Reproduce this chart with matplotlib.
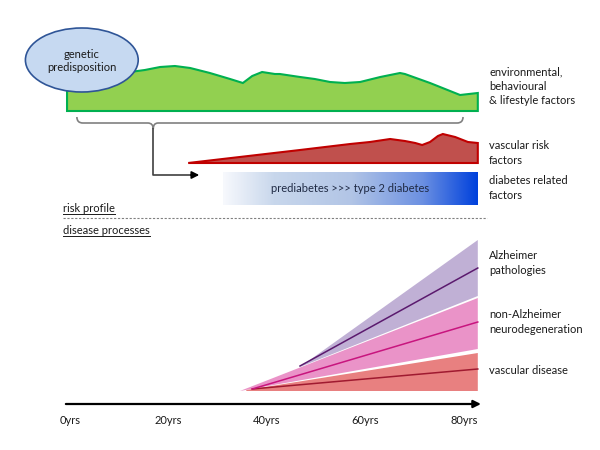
import numpy as np
import matplotlib
matplotlib.use("Agg")
import matplotlib.pyplot as plt
from matplotlib.patches import Polygon, Ellipse, PathPatch
from matplotlib.path import Path
from matplotlib.colors import LinearSegmentedColormap

plt.rcParams['font.family'] = ['Lato', 'DejaVu Sans']

# x is age in years, y is vertical position (top of the picture = 0)
age_ticks = [0, 20, 40, 60, 80]
age_labels = ['0yrs', '20yrs', '40yrs', '60yrs', '80yrs']

# environmental / behavioural / lifestyle profile (top outline)
env_age = [-0.6, 6.1, 8.1, 10.2, 12.2, 15.2, 18.3, 21.3, 24.4, 28.4, 32.5, 35.1, 37.0,
           39.0, 41.6, 42.6, 46.7, 49.7, 52.8, 55.8, 58.9, 63.0, 67.0, 68.0, 73.1, 79.2, 82.8]
env_y = [91, 88, 83, 75, 72, 70, 67, 66, 68, 73, 79, 83, 76,
         72, 74, 74, 77, 79, 82, 83, 82, 77, 73, 74, 83, 95, 93]
env_base = 111

# vascular risk factors profile
vasc_age = [24.0, 46.7, 56.9, 60.9, 65.0, 68.0, 70.1, 71.5, 73.1, 74.7, 75.7, 78.2, 80.8, 82.8]
vasc_y = [163, 150, 144, 142, 139, 141, 143, 145, 142, 136, 134, 137, 142, 143]
vasc_base = 163

# diabetes bar
diab_start, diab_end = 31.1, 82.8
diab_top, diab_bottom = 172, 205

# disease processes bands: start age, start y, and top / bottom y at the end age
end_age = 82.8
disease_base = 391
alz_band = [46.7, 367, 240, 296]
nonalz_band = [34.5, 391, 298, 349]
vd_band = [35.8, 390, 353, 391]
# trend lines: start age, start y, end y
alz_line = [46.7, 366, 268]
nonalz_line = [37.0, 389, 322]
vd_line = [37.0, 389, 369]

fig = plt.figure(figsize=(6, 4.5), dpi=100)
ax = fig.add_axes([0, 0, 1, 1])
ax.set_xlim(-14.21, 107.61)
ax.set_ylim(450, 0)
ax.axis('off')

txt = '#1a1a1a'
fs = 8

# green environmental shape
pts = list(zip(env_age, env_y)) + [(env_age[-1], env_base), (env_age[0], env_base)]
ax.add_patch(Polygon(pts, closed=True, facecolor='#92d050', edgecolor='#00b050', lw=1.5, zorder=2))

# genetic predisposition ellipse
ax.add_patch(Ellipse((2.4, 60), 22.9, 64, facecolor='#c6d9f1', edgecolor='#2f5597', lw=1.2, zorder=3))
ax.text(2.4, 61, 'genetic\npredisposition', ha='center', va='center', fontsize=fs, color=txt, zorder=4,
        linespacing=1.3)

# brace under the environmental shape
verts = [(1.4, 117), (1.4, 123), (2.6, 123),
         (15.8, 123), (16.9, 123), (16.9, 129),
         (16.9, 123), (17.9, 123), (78.6, 123),
         (79.8, 123), (79.8, 117)]
codes = [Path.MOVETO, Path.CURVE3, Path.CURVE3,
         Path.LINETO, Path.CURVE3, Path.CURVE3,
         Path.CURVE3, Path.CURVE3, Path.LINETO,
         Path.CURVE3, Path.CURVE3]
ax.add_patch(PathPatch(Path(verts, codes), facecolor='none', edgecolor='#808080', lw=1.2, zorder=2))

# connector arrow
ax.plot([16.9, 16.9, 24.5], [129, 175, 175], color='#404040', lw=1.2, zorder=2)
ax.annotate('', xy=(26.8, 175), xytext=(24.0, 175),
            arrowprops=dict(arrowstyle='-|>', color='black', lw=1.2, mutation_scale=11))

# vascular risk factors shape
pts = list(zip(vasc_age, vasc_y)) + [(vasc_age[-1], vasc_base)]
ax.add_patch(Polygon(pts, closed=True, facecolor='#c0504d', edgecolor='#c00000', lw=1.5, zorder=2))

# diabetes gradient bar
cmap = LinearSegmentedColormap.from_list('diab', [(0, '#f7f9fd'), (0.2, '#c8d7ec'), (0.5, '#b2c5e6'),
                                                   (0.78, '#6d91e2'), (1.0, '#0041dc')])
grad = np.linspace(0, 1, 256).reshape(1, -1)
ax.imshow(grad, cmap=cmap, aspect='auto', extent=(diab_start, diab_end, diab_bottom, diab_top), zorder=2)
ax.text((diab_start + diab_end) / 2, (diab_top + diab_bottom) / 2 + 0.5, 'prediabetes >>> type 2 diabetes',
        ha='center', va='center', fontsize=fs, color='#1f2a44', zorder=3)

# risk profile / disease processes divider
ax.plot([-1.4, 84.7], [218, 218], color='#808080', lw=0.8, ls=(0, (2, 1.5)))
under = [ax.text(-1.4, 209, 'risk profile', ha='left', va='center', fontsize=fs, color=txt),
         ax.text(-1.4, 231, 'disease processes', ha='left', va='center', fontsize=fs, color=txt)]

# disease bands
for (a0, y0, y_top, y_bot), c in [(nonalz_band, '#ea93c8'), (vd_band, '#e88080'), (alz_band, '#c0b0d5')]:
    pts = [(a0, y0), (end_age, y_top), (end_age, y_bot), (a0, max(y0, min(y_bot, disease_base)))]
    ax.add_patch(Polygon(pts, closed=True, facecolor=c, edgecolor='none', zorder=2))

for (a0, y0, y1), c in [(vd_line, '#a01a30'), (nonalz_line, '#c8157e'), (alz_line, '#5b1a6e')]:
    ax.plot([a0, end_age], [y0, y1], color=c, lw=1.1, zorder=3)

# time axis
ax.annotate('', xy=(84.0, 404), xytext=(-1.4, 404),
            arrowprops=dict(arrowstyle='-|>', color='black', lw=1.6, mutation_scale=11))
for a, lab in zip(age_ticks, age_labels):
    ax.text(a, 420, lab, ha='center', va='center', fontsize=fs, color=txt)

# right-hand labels
lx = 85.1
ax.text(lx, 86, 'environmental,\nbehavioural\n& lifestyle factors', ha='left', va='center', fontsize=fs,
        color=txt, linespacing=1.35)
ax.text(lx, 153, 'vascular risk\nfactors', ha='left', va='center', fontsize=fs, color=txt, linespacing=1.35)
ax.text(lx, 188, 'diabetes related\nfactors', ha='left', va='center', fontsize=fs, color=txt, linespacing=1.35)
ax.text(lx, 263, 'Alzheimer\npathologies', ha='left', va='center', fontsize=fs, color=txt, linespacing=1.35)
ax.text(lx, 322, 'non-Alzheimer\nneurodegeneration', ha='left', va='center', fontsize=fs, color=txt,
        linespacing=1.35)
ax.text(lx, 371, 'vascular disease', ha='left', va='center', fontsize=fs, color=txt)

# underline the two section labels
fig.canvas.draw()
inv = ax.transData.inverted()
for t in under:
    bb = t.get_window_extent()
    (x0, y0), (x1, _) = inv.transform([(bb.x0, bb.y0), (bb.x1, bb.y0)])
    ax.plot([x0, x1], [y0 - 0.5, y0 - 0.5], color=txt, lw=0.7)

fig.savefig('out.png', dpi=100)
